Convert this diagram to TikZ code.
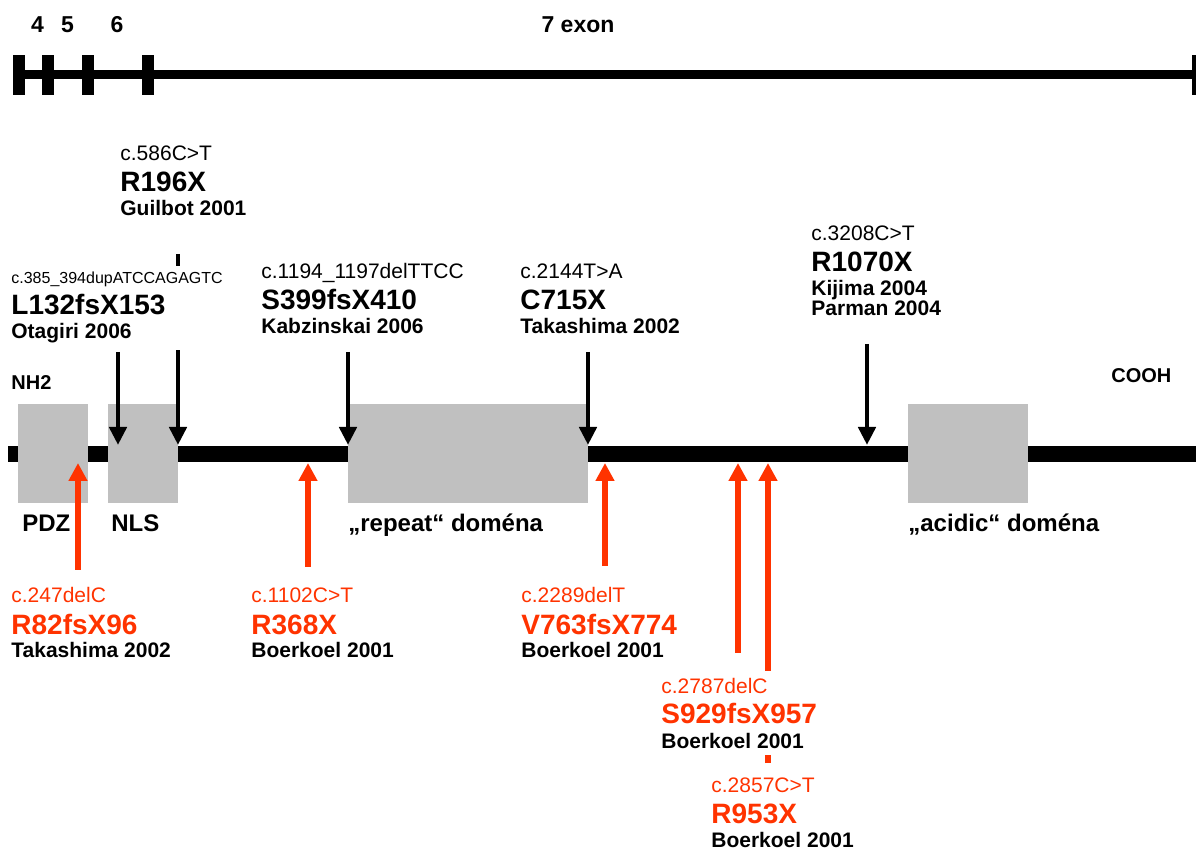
\documentclass[tikz,border=0pt]{standalone}
\usepackage{fontspec}
\setmainfont{Liberation Sans}
\usepackage{tikz}
\usetikzlibrary{arrows.meta, fit}
\definecolor{cDomain}   {HTML}{C0C0C0}
\definecolor{cNonsense} {HTML}{FF3300}
\pgfdeclarelayer{back}
\pgfdeclarelayer{cover}
\pgfsetlayers{back,cover,main}
\tikzset{
  lbl/.style={anchor=base west, inner sep=0pt},
  codetxt/.style={lbl, font=\fontsize{10.5}{12}\selectfont},
  codesmall/.style={lbl, font=\fontsize{8}{9.5}\selectfont},
  prottxt/.style={lbl, font=\fontsize{14}{16}\selectfont\bfseries},
  reftxt/.style={lbl, font=\fontsize{10.5}{12}\selectfont\bfseries},
  domaintxt/.style={lbl, font=\fontsize{12}{14}\selectfont\bfseries},
  termtxt/.style={lbl, font=\fontsize{10}{12}\selectfont\bfseries},
  exontxt/.style={anchor=base, inner sep=0pt, font=\fontsize{11.5}{13}\selectfont\bfseries},
  domainbox/.style={fill=cDomain, draw=none, inner sep=0pt, anchor=north west, minimum height=49.5pt},
  cover/.style={fill=white, draw=none, inner sep=3pt},
  mutblack/.style={line width=2.25pt, -{Triangle[width=8.5pt,length=9pt]}},
  mutred/.style={line width=3pt, draw=cNonsense, -{Triangle[width=9pt,length=9pt]}},
}
\begin{document}
\begin{tikzpicture}[x=0.5pt, y=-0.5pt]
  \useasboundingbox (0,0) rectangle (1196,850);
  % exon map
  \draw[line width=4.5pt] (13,75) -- (1196,75);
  \foreach \ex in {19,48,88,148}
    \fill (\ex-6,55) rectangle (\ex+6,95);
  \fill (1192,55) rectangle (1196,95);
  \node[exontxt] (ex4) at (37.5,33) {4};
  \node[exontxt] (ex5) at (67.5,33) {5};
  \node[exontxt] (ex6) at (117,33) {6};
  \node[exontxt] (ex7) at (578,33) {7 exon};

  % protein with domains
  \begin{pgfonlayer}{back}
    \draw[line width=8pt] (8,454) -- (1196,454);
    \node[domainbox, minimum width=35pt] (pdz) at (18,404) {};
    \node[domainbox, minimum width=35pt] (nls) at (108,404) {};
    \node[domainbox, minimum width=120pt] (repeatdom) at (348,404) {};
    \node[domainbox, minimum width=60pt] (acidicdom) at (908,404) {};
    \foreach \mut/\mx/\my in {l132/118/352, r196x/178/254, s399/348/352, c715x/588/352, r1070x/867/344} {
      \coordinate (\mut top) at (\mx,\my);
      \coordinate (\mut hit) at (\mx,445);
      \draw[mutblack] (\mut top) -- (\mut hit);
    }
    \foreach \mut/\mx/\my in {r82/78/570, r368x/308/567, v763/605/566, s929/738/653, r953x/768/763} {
      \coordinate (\mut bot) at (\mx,\my);
      \coordinate (\mut hit) at (\mx,463);
      \draw[mutred] (\mut bot) -- (\mut hit);
    }
  \end{pgfonlayer}
  \node[termtxt] (nh2) at (11,390) {NH2};
  \node[termtxt] (cooh) at (1111,383) {COOH};
  \node[domaintxt] (pdzlbl) at (22,531) {PDZ};
  \node[domaintxt] (nlslbl) at (111,531) {NLS};
  \node[domaintxt] (repeatlbl) at (348,531) {„repeat“ doména};
  \node[domaintxt] (acidiclbl) at (908,531) {„acidic“ doména};

  % mutations above the protein
  \begin{scope}[shift={(120,161)}]
    \node[codetxt] (c586) at (0,0) {c.586C>T};
    \node[prottxt] (r196x) at (0,31) {R196X};
    \node[reftxt] (guilbot) at (0,55) {Guilbot 2001};
  \end{scope}
  \begin{scope}[shift={(11,284)}]
    \node[codesmall] (c385) at (0,0) {c.385\_394dupATCCAGAGTC};
    \node[prottxt] (l132) at (0,31) {L132fsX153};
    \node[reftxt] (otagiri) at (0,55) {Otagiri 2006};
  \end{scope}
  \begin{scope}[shift={(261,279)}]
    \node[codetxt] (c1194) at (0,0) {c.1194\_1197delTTCC};
    \node[prottxt] (s399) at (0,31) {S399fsX410};
    \node[reftxt] (kabz) at (0,55) {Kabzinskai 2006};
  \end{scope}
  \begin{scope}[shift={(520,279)}]
    \node[codetxt] (c2144) at (0,0) {c.2144T>A};
    \node[prottxt] (c715x) at (0,31) {C715X};
    \node[reftxt] (taka715) at (0,55) {Takashima 2002};
  \end{scope}
  \begin{scope}[shift={(811,241)}]
    \node[codetxt] (c3208) at (0,0) {c.3208C>T};
    \node[prottxt] (r1070x) at (0,31) {R1070X};
    \node[reftxt] (kijima) at (0,55) {Kijima 2004};
    \node[reftxt] (parman) at (0,75) {Parman 2004};
  \end{scope}

  % mutations below the protein
  \begin{scope}[shift={(11,603)}]
    \node[codetxt, text=cNonsense] (c247) at (0,0) {c.247delC};
    \node[prottxt, text=cNonsense] (r82) at (0,31) {R82fsX96};
    \node[reftxt] (taka82) at (0,55) {Takashima 2002};
  \end{scope}
  \begin{scope}[shift={(251,603)}]
    \node[codetxt, text=cNonsense] (c1102) at (0,0) {c.1102C>T};
    \node[prottxt, text=cNonsense] (r368x) at (0,31) {R368X};
    \node[reftxt] (boe368) at (0,55) {Boerkoel 2001};
  \end{scope}
  \begin{scope}[shift={(521,603)}]
    \node[codetxt, text=cNonsense] (c2289) at (0,0) {c.2289delT};
    \node[prottxt, text=cNonsense] (v763) at (0,31) {V763fsX774};
    \node[reftxt] (boe763) at (0,55) {Boerkoel 2001};
  \end{scope}
  \begin{scope}[shift={(661,693)}]
    \node[codetxt, text=cNonsense] (c2787) at (0,0) {c.2787delC};
    \node[prottxt, text=cNonsense] (s929) at (0,31) {S929fsX957};
    \node[reftxt] (boe929) at (0,55) {Boerkoel 2001};
  \end{scope}
  \begin{scope}[shift={(711,792)}]
    \node[codetxt, text=cNonsense] (c2857) at (0,0) {c.2857C>T};
    \node[prottxt, text=cNonsense] (r953x) at (0,31) {R953X};
    \node[reftxt] (boe953) at (0,55) {Boerkoel 2001};
  \end{scope}

  \begin{pgfonlayer}{cover}
    \node[cover, fit=(c385)(l132)(otagiri)] (l132box) {};
    \node[cover, fit=(c2787)(s929)(boe929)] (s929box) {};
  \end{pgfonlayer}
\end{tikzpicture}
\end{document}
